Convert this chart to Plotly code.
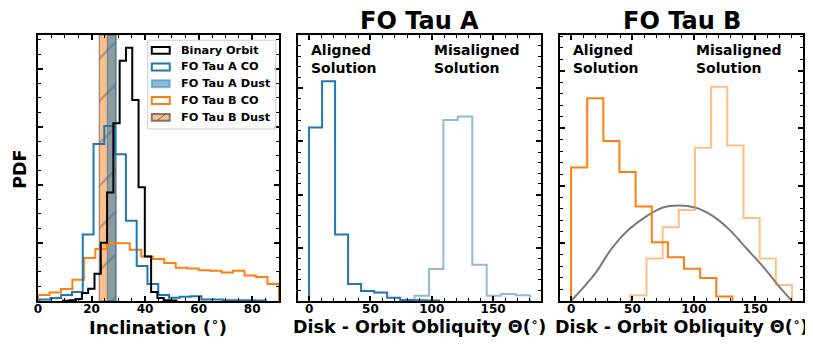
import numpy as np
import plotly.graph_objects as go

# ---- data ----
# panel 1: inclination histograms (PDF per degree)
binary_edges = np.linspace(9.35, 51.65, 19)
binary_pdf = [0.0001, 0.0003, 0.0007, 0.0028, 0.0042, 0.0094, 0.0201, 0.0374, 0.0613,
              0.0828, 0.0873, 0.0693, 0.0392, 0.0153, 0.0031, 0.0010, 0.0003, 0.0002]

a_co_edges = np.linspace(0.6, 85.2, 22)
a_co_pdf = [0.0005, 0.0010, 0.0021, 0.0031, 0.0229, 0.0541, 0.0603, 0.0506, 0.0277, 0.0121,
            0.0059, 0.0021, 0.0011, 0.0015, 0.0016, 0.0005, 0.0005, 0.0003, 0.0003, 0.0003, 0.0002]

b_co_edges = np.linspace(0, 90, 22)
b_co_pdf = [0.0021, 0.0029, 0.0041, 0.0073, 0.0148, 0.0179, 0.0199, 0.0199, 0.0177, 0.0153,
            0.0145, 0.0131, 0.0115, 0.0112, 0.0106, 0.0104, 0.0098, 0.0104, 0.0088, 0.0083, 0.0059]

a_dust_range = [25.9, 29.1]
b_dust_range = [22.9, 29.1]

# panel 2: FO Tau A obliquity
a_al_edges = np.linspace(0, 106, 11)
a_al_pdf = [0.0326, 0.0413, 0.0125, 0.0032, 0.0019, 0.0016, 0.0006, 0.0002, 0.00015, 0.0001]
a_mis_edges = np.linspace(86, 180, 9)
a_mis_pdf = [0.0010, 0.0060, 0.0340, 0.0347, 0.0068, 0.0010, 0.0013, 0.0011]

# panel 3: FO Tau B obliquity
b_al_edges = np.linspace(0, 131.5, 11)
b_al_pdf = [0.0116, 0.0176, 0.0139, 0.0112, 0.0082, 0.0051, 0.0038, 0.0028, 0.0020, 0.0004]
b_mis_edges = np.linspace(48.3, 180, 11)
b_mis_pdf = [0.0005, 0.0037, 0.0064, 0.0079, 0.0133, 0.0186, 0.0135, 0.0072, 0.0037, 0.0014]

iso_theta = [0, 19.7, 33.3, 47, 60.7, 74.3, 88, 101.6, 115.3, 129, 142.6, 156.3, 170, 180]
iso_pdf = [0, 0.0024, 0.0046, 0.0062, 0.0073, 0.0081, 0.0083, 0.0081, 0.0074, 0.0062,
           0.0046, 0.0030, 0.0012, 0]

legend_labels = ["Binary Orbit", "FO Tau A CO", "FO Tau A Dust", "FO Tau B CO", "FO Tau B Dust"]

BLUE = "#1f77b4"
ORANGE = "#ff7f0e"
BLUE_L = "rgba(31,119,180,0.5)"
ORANGE_L = "rgba(255,127,14,0.5)"
FONT = "DejaVu Sans"

Y1MAX, Y2MAX, Y3MAX = 0.0917, 0.05, 0.0231


def step_xy(edges, vals):
    x = [edges[0]] + list(edges)
    y = [0] + list(vals) + [0]
    return x, y


def add_hist(fig, edges, vals, color, xa, ya):
    x, y = step_xy(edges, vals)
    fig.add_trace(go.Scatter(x=x, y=y, mode="lines", line=dict(color=color, width=2, shape="hv"),
                             xaxis=xa, yaxis=ya, showlegend=False, hoverinfo="skip"))


fig = go.Figure()

# dust bands
lo, hi = b_dust_range
fig.add_trace(go.Scatter(x=[lo, hi, hi, lo, lo], y=[0, 0, Y1MAX, Y1MAX, 0], mode="lines",
                         fill="toself", fillcolor=ORANGE_L,
                         fillpattern=dict(shape="/", bgcolor=ORANGE_L, fgcolor="rgba(50,80,115,0.75)",
                                          size=30, solidity=0.08),
                         line=dict(color="rgba(100,100,100,0.7)", width=1.2),
                         xaxis="x", yaxis="y", showlegend=False, hoverinfo="skip"))
lo, hi = a_dust_range
fig.add_trace(go.Scatter(x=[lo, hi, hi, lo, lo], y=[0, 0, Y1MAX, Y1MAX, 0], mode="lines",
                         fill="toself", fillcolor="rgba(31,119,180,0.5)",
                         line=dict(color="rgba(31,119,180,0.6)", width=1.2),
                         xaxis="x", yaxis="y", showlegend=False, hoverinfo="skip"))

add_hist(fig, b_co_edges, b_co_pdf, ORANGE, "x", "y")
add_hist(fig, a_co_edges, a_co_pdf, BLUE, "x", "y")
add_hist(fig, binary_edges, binary_pdf, "black", "x", "y")

add_hist(fig, a_mis_edges, a_mis_pdf, BLUE_L, "x2", "y2")
add_hist(fig, a_al_edges, a_al_pdf, BLUE, "x2", "y2")

fig.add_trace(go.Scatter(x=iso_theta, y=iso_pdf, mode="lines",
                         line=dict(color="#7a7a7a", width=2, shape="spline"),
                         xaxis="x3", yaxis="y3", showlegend=False, hoverinfo="skip"))
add_hist(fig, b_mis_edges, b_mis_pdf, ORANGE_L, "x3", "y3")
add_hist(fig, b_al_edges, b_al_pdf, ORANGE, "x3", "y3")

# ---- hand-made legend in panel 1 (data coords) ----
shapes = [dict(type="rect", xref="x", yref="y", x0=41.0, x1=88.8, y0=0.0593, y1=0.0899,
               line=dict(color="#cccccc", width=1), fillcolor="rgba(255,255,255,0.8)", layer="above")]
ann = []
leg_y = [0.0864, 0.0807, 0.0749, 0.0691, 0.0633]
leg_style = [("white", "black"), ("white", BLUE), (BLUE_L, BLUE_L), ("white", ORANGE),
             (ORANGE_L, "rgba(110,110,110,0.9)")]
for yy, (fc, lc), lab in zip(leg_y, leg_style, legend_labels):
    shapes.append(dict(type="rect", xref="x", yref="y", x0=42.5, x1=49.2, y0=yy - 0.0012,
                       y1=yy + 0.0012, line=dict(color=lc, width=2), fillcolor=fc, layer="above"))
    ann.append(dict(x=52.6, y=yy, xref="x", yref="y", text=lab, showarrow=False, xanchor="left",
                    yanchor="middle", font=dict(family=FONT, size=11.3, weight="bold", color="black")))
shapes.append(dict(type="line", xref="x", yref="y", x0=44.5, x1=47.5, y0=leg_y[4] - 0.0011,
                   y1=leg_y[4] + 0.0011, line=dict(color="rgba(80,80,80,0.8)", width=1), layer="above"))


# ---- text ----
def txt(x, y, text, size, xref="paper", yref="paper", xanchor="center", yanchor="middle", angle=0,
        align="center"):
    return dict(x=x, y=y, xref=xref, yref=yref, text=text, showarrow=False, xanchor=xanchor,
                yanchor=yanchor, textangle=angle, align=align,
                font=dict(family=FONT, size=size, weight="bold", color="black"))


ann += [
    txt(0.4987, 1.054, "FO Tau A", 24),
    txt(0.8412, 1.054, "FO Tau B", 24),
    txt(0.1575, -0.093, "Inclination (<sup>∘</sup>)", 18),
    txt(0.4987, -0.093, "Disk - Orbit Obliquity Θ(<sup>∘</sup>)", 17.5),
    txt(0.8412, -0.093, "Disk - Orbit Obliquity Θ(<sup>∘</sup>)", 17.5),
    txt(-0.0245, 0.494, "PDF", 17.5, angle=-90),
    txt(0, 0.98, "Aligned<br>Solution", 14, xref="x2", xanchor="left", yanchor="top", align="left"),
    txt(100, 0.98, "Misaligned<br>Solution", 14, xref="x2", xanchor="left", yanchor="top", align="left"),
    txt(0, 0.98, "Aligned<br>Solution", 14, xref="x3", xanchor="left", yanchor="top", align="left"),
    txt(100, 0.98, "Misaligned<br>Solution", 14, xref="x3", xanchor="left", yanchor="top", align="left"),
]


def xax(domain, rng, dtick, mdtick, anchor):
    return dict(domain=domain, range=rng, anchor=anchor, dtick=dtick, tick0=0, ticks="inside",
                ticklen=5, tickwidth=1.5, tickcolor="black", showline=True, linewidth=2,
                linecolor="black", mirror="allticks", showgrid=False, zeroline=False,
                automargin=False, ticklabelstandoff=-4,
                tickfont=dict(family=FONT, size=12, weight="bold", color="black"),
                minor=dict(dtick=mdtick, tick0=0, ticks="inside", ticklen=3, tickwidth=1,
                           tickcolor="black", showgrid=False))


def yax(rng, dtick, mdtick, anchor):
    return dict(domain=[0, 1], range=rng, anchor=anchor, dtick=dtick, tick0=0, ticks="inside",
                ticklen=5, tickwidth=1.5, tickcolor="black", showline=True, linewidth=2,
                linecolor="black", mirror="allticks", showgrid=False, zeroline=False,
                showticklabels=False, automargin=False,
                minor=dict(dtick=mdtick, tick0=0, ticks="inside", ticklen=3, tickwidth=1,
                           tickcolor="black", showgrid=False))


# page body has an 8px margin, so the figure is 8px smaller and shifted
fig.update_layout(
    width=805, height=344,
    margin=dict(l=30, r=10, t=27, b=51, autoexpand=False),
    plot_bgcolor="white", paper_bgcolor="white",
    font=dict(family=FONT, color="black"),
    showlegend=False,
    xaxis=xax([0, 0.3150], [0, 90], 20, 5, "y"),
    yaxis=yax([0, Y1MAX], 0.02, 0.005, "x"),
    xaxis2=xax([0.3399, 0.6575], [-9, 189], 50, 10, "y2"),
    yaxis2=yax([0, Y2MAX], 0.01, 0.002, "x2"),
    xaxis3=xax([0.6824, 1.0], [-9, 189], 50, 10, "y3"),
    yaxis3=yax([0, Y3MAX], 0.005, 0.001, "x3"),
    shapes=shapes,
    annotations=ann,
)

fig.write_html("out.html")
